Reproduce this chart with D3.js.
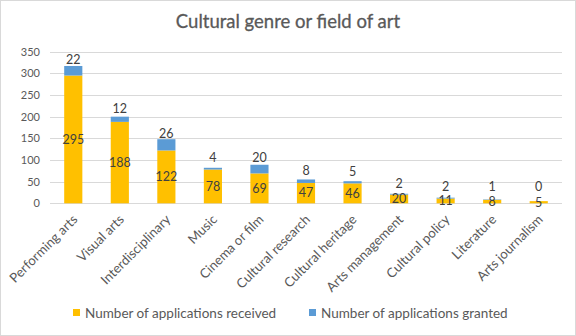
<!DOCTYPE html>
<html><head><meta charset="utf-8">
<script src="https://cdn.jsdelivr.net/npm/d3@7"></script>
<style>
html,body{margin:0;padding:0;background:#fff;}
svg{display:block;font-family:Lato,"Open Sans",sans-serif;}
</style></head>
<body>
<svg id="chart" width="576" height="336"></svg>
<script>
const categories = ["Performing arts","Visual arts","Interdisciplinary","Music","Cinema or film","Cultural research","Cultural heritage","Arts management","Cultural policy","Literature","Arts journalism"];
const received = [295,188,122,78,69,47,46,20,11,8,5];
const granted = [22,12,26,4,20,8,5,2,2,1,0];
const yTicks = [0,50,100,150,200,250,300,350];
const seriesNames = ["Number of applications received","Number of applications granted"];
const colors = ["#FFC000","#5B9BD5"];

const svg = d3.select("#chart");
const W = 576, H = 336;
svg.append("rect").attr("x",0.5).attr("y",0.5).attr("width",W-1).attr("height",H-1)
  .attr("fill","#fff").attr("stroke","#d9d9d9");

svg.append("text").attr("x",288).attr("y",28).attr("text-anchor","middle")
  .attr("font-size",18.5).attr("fill","#595959").attr("stroke","#595959").attr("stroke-width",0.3)
  .text("Cultural genre or field of art");

const plot = {left:50, right:562, top:51.7, bottom:203.3};
const x = d3.scaleBand().domain(categories).range([plot.left,plot.right]).paddingInner(0.61).paddingOuter(0.305);
const y = d3.scaleLinear().domain([0,350]).range([plot.bottom,plot.top]);

// gridlines
svg.append("g").selectAll("line").data(yTicks).join("line")
  .attr("x1",plot.left).attr("x2",plot.right)
  .attr("y1",d=>Math.round(y(d))+0.5).attr("y2",d=>Math.round(y(d))+0.5)
  .attr("stroke","#d9d9d9").attr("stroke-width",1);

// y axis labels
const yAxis = d3.axisLeft(y).tickValues(yTicks).tickSize(0).tickPadding(0);
const gy = svg.append("g").attr("transform",`translate(${plot.left-10},0)`).call(yAxis);
gy.select(".domain").remove();
gy.selectAll("text").attr("font-size",11).attr("fill","#595959").attr("font-family","Lato,sans-serif");

// bars
const data = categories.map((c,i)=>({c, r:received[i], g:granted[i]}));
const bars = svg.append("g");
bars.selectAll("rect.r").data(data).join("rect").attr("class","r")
  .attr("x",d=>x(d.c)).attr("width",x.bandwidth())
  .attr("y",d=>y(d.r)).attr("height",d=>y(0)-y(d.r)).attr("fill",colors[0]);
bars.selectAll("rect.g").data(data).join("rect").attr("class","g")
  .attr("x",d=>x(d.c)).attr("width",x.bandwidth())
  .attr("y",d=>y(d.r+d.g)).attr("height",d=>y(d.r)-y(d.r+d.g)).attr("fill",colors[1]);

// x axis labels
const xAxis = d3.axisBottom(x).tickSize(0).tickPadding(0);
const gx = svg.append("g").attr("transform",`translate(0,${plot.bottom})`).call(xAxis);
gx.select(".domain").remove();
gx.selectAll("text").attr("font-size",13.2).attr("fill","#595959").attr("font-family","Lato,sans-serif")
  .attr("text-anchor","end").attr("dy",0).attr("y",0)
  .attr("transform","translate(5,17) rotate(-45)");

// data labels
const lab = svg.append("g").attr("font-size",12.5).attr("fill","#404040").attr("text-anchor","middle");
lab.selectAll("text.r").data(data).join("text").attr("class","r")
  .attr("x",d=>x(d.c)+x.bandwidth()/2)
  .attr("y",d=>(y(d.r)+y(0))/2).attr("dy","0.35em").text(d=>d.r);
lab.selectAll("text.g").data(data).join("text").attr("class","g")
  .attr("x",d=>x(d.c)+x.bandwidth()/2)
  .attr("y",d=>Math.min((y(d.r)+y(d.r+d.g))/2 - 11, y(0) - 17)).attr("dy","0.35em").text(d=>d.g);

// legend
const leg = svg.append("g").attr("transform","translate(73,313)");
const items = leg.selectAll("g").data(seriesNames).join("g")
  .attr("transform",(d,i)=>`translate(${i*236},0)`);
items.append("rect").attr("x",0).attr("y",-4).attr("width",7).attr("height",7).attr("fill",(d,i)=>colors[i]);
items.append("text").attr("x",12).attr("y",0).attr("dy","0.35em").attr("font-size",13.5).attr("fill","#595959").text(d=>d);
</script>
</body></html>
